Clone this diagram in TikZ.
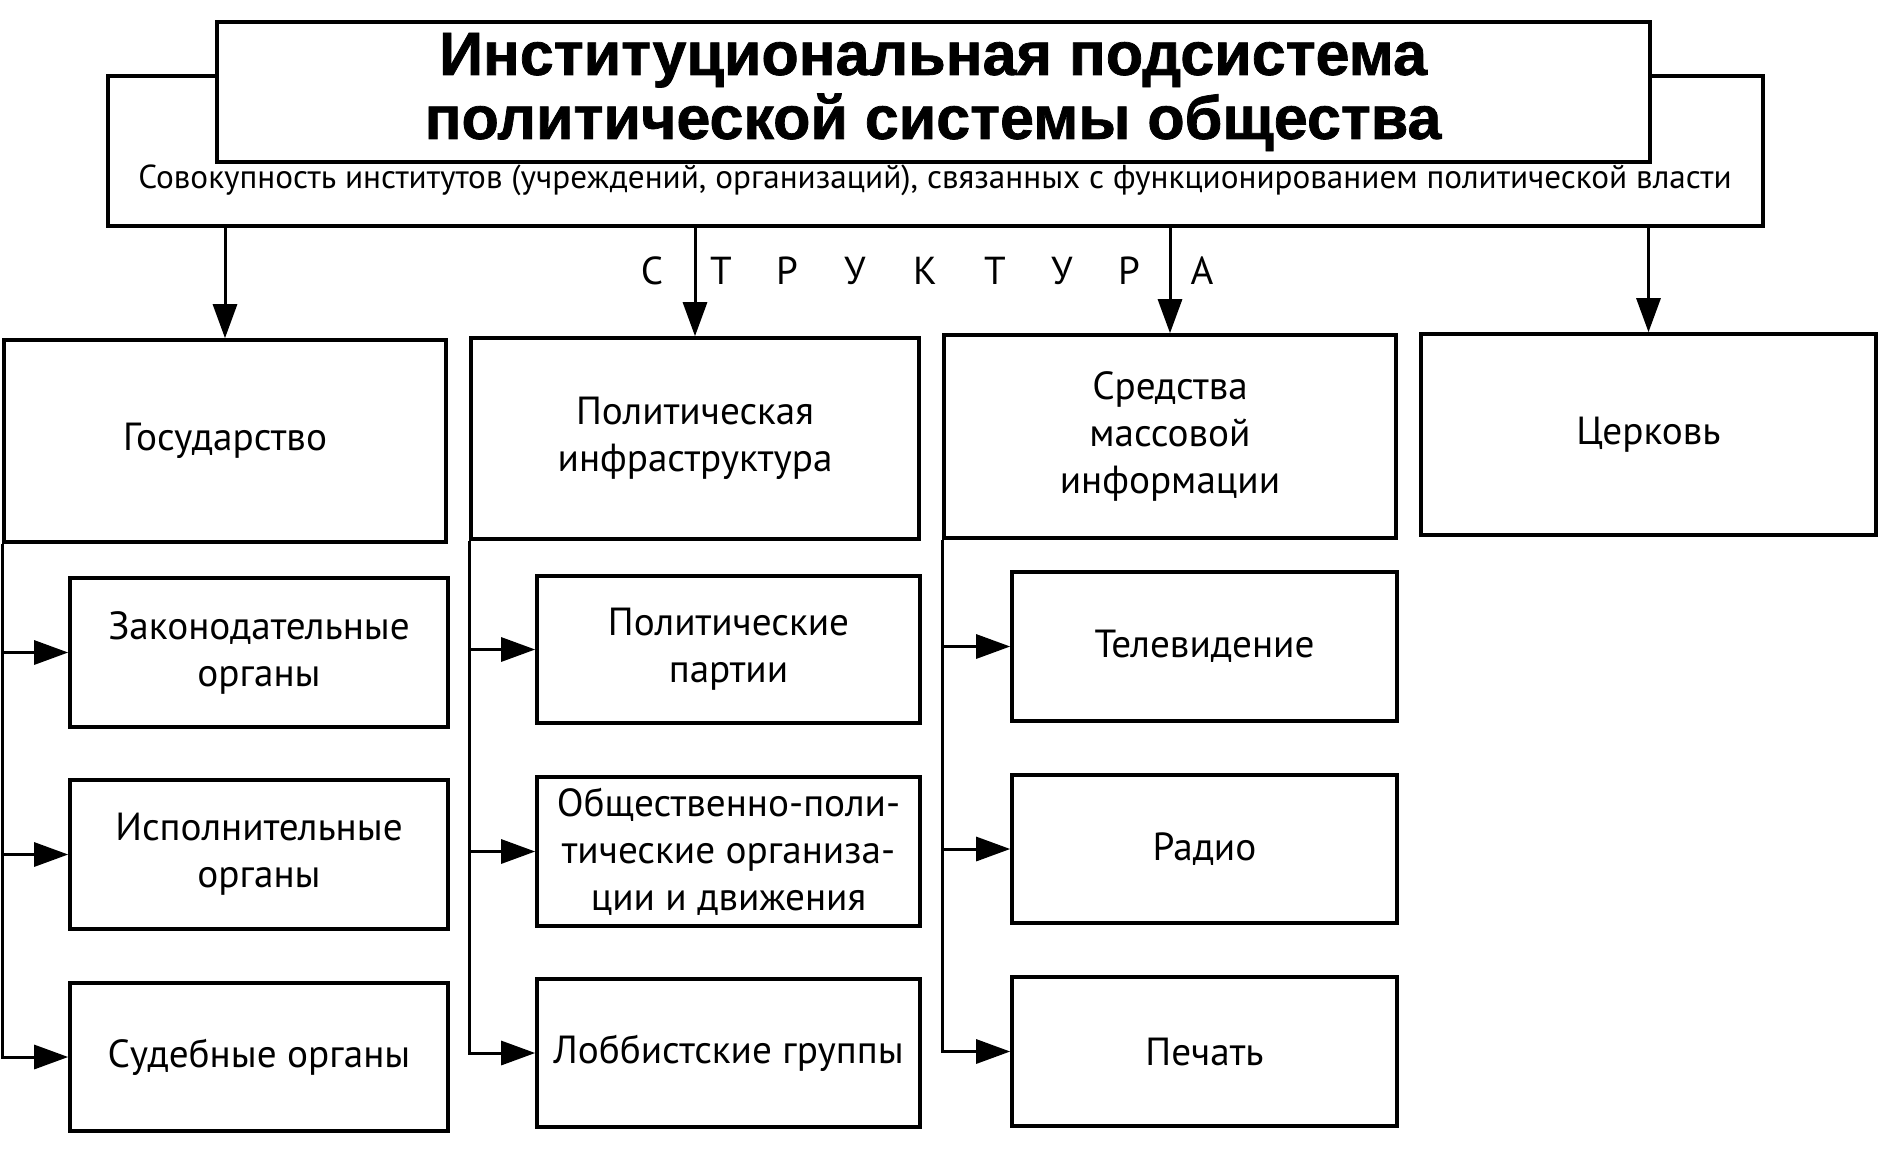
\documentclass[tikz,border=0pt]{standalone}
\usepackage{fontspec}
\setmainfont{PT Sans}
\newfontfamily\titlefont{Liberation Sans}[FakeBold=1.2]
\usetikzlibrary{arrows.meta,fit}
\begin{document}
\begin{tikzpicture}[x=0.5pt,y=-0.5pt,
  frame/.style={draw, line width=1.8pt, fill=white, inner sep=0pt},
  box/.style 2 args={frame, align=center, font=\fontsize{19.6}{23.5}\selectfont,
     minimum width={#1*0.5pt}, minimum height={#2*0.5pt}},
  arr/.style={line width=1.5pt, -{Triangle[length=17pt,width=12pt]}},
  letter/.style={font=\fontsize{19.5}{23}\selectfont, inner sep=0pt}]
\useasboundingbox (0,0) rectangle (1884,1152);
% outer and title
\node[frame, fit={(108,76)(1763,226)}] (outer) {};
\node[frame, fit={(217,22)(1650,162)}] (title) {};
\node[align=center, font=\titlefont\bfseries\fontsize{30.5}{32}\selectfont] (titletext) at (933,92)
  {Институциональная подсистема\\политической системы общества};
\node[font=\fontsize{16.6}{19}\selectfont, inner sep=0pt] (sub) at (935,180)
  {Совокупность институтов (учреждений, организаций), связанных с функционированием политической власти};
% structure letters
\node[letter] (l1) at (652,271) {С};
\node[letter] (l2) at (721,271) {Т};
\node[letter] (l3) at (787,271) {Р};
\node[letter] (l4) at (855,271) {У};
\node[letter] (l5) at (925,271) {К};
\node[letter] (l6) at (995,271) {Т};
\node[letter] (l7) at (1062,271) {У};
\node[letter] (l8) at (1129,271) {Р};
\node[letter] (l9) at (1202,271) {А};
% top boxes
\node[box={442}{202}] (gov) at (225,441) {Государство};
\node[box={448}{201}] (pinf) at (695,438.5) {Политическая\\инфраструктура};
\node[box={452}{203}] (smi) at (1170,436.5) {Средства\\массовой\\информации};
\node[box={455}{201}] (church) at (1648.5,434.5) {Церковь};
% column 1
\node[box={378}{149}] (leg) at (259,652.5) {Законодательные\\органы};
\node[box={378}{149}] (exe) at (259,854.5) {Исполнительные\\органы};
\node[box={378}{148}] (jud) at (259,1057) {Судебные органы};
% column 2
\node[box={383}{147}] (part) at (728.5,649.5) {Политические\\партии};
\node[box={383}{149}] (org) at (728.5,851.5) {Общественно-поли-\\тические организа-\\ции и движения};
\node[box={383}{148}] (lob) at (728.5,1053) {Лоббистские группы};
% column 3
\node[box={385}{149}] (tv) at (1204.5,646.5) {Телевидение};
\node[box={385}{148}] (radio) at (1204.5,849) {Радио};
\node[box={385}{149}] (press) at (1204.5,1051.5) {Печать};
% down arrows
\draw[arr] (outer.south -| gov.north) -- (gov.north);
\draw[arr] (outer.south -| pinf.north) -- (pinf.north);
\draw[arr] (outer.south -| smi.north) -- (smi.north);
\draw[arr] (outer.south -| church.north) -- (church.north);
% child connectors
\draw[arr] (gov.south west) |- (jud.west);
\draw[arr] (gov.south west |- leg.west) -- (leg.west);
\draw[arr] (gov.south west |- exe.west) -- (exe.west);
\draw[arr] (pinf.south west) |- (lob.west);
\draw[arr] (pinf.south west |- part.west) -- (part.west);
\draw[arr] (pinf.south west |- org.west) -- (org.west);
\draw[arr] (smi.south west) |- (press.west);
\draw[arr] (smi.south west |- tv.west) -- (tv.west);
\draw[arr] (smi.south west |- radio.west) -- (radio.west);
\end{tikzpicture}
\end{document}
